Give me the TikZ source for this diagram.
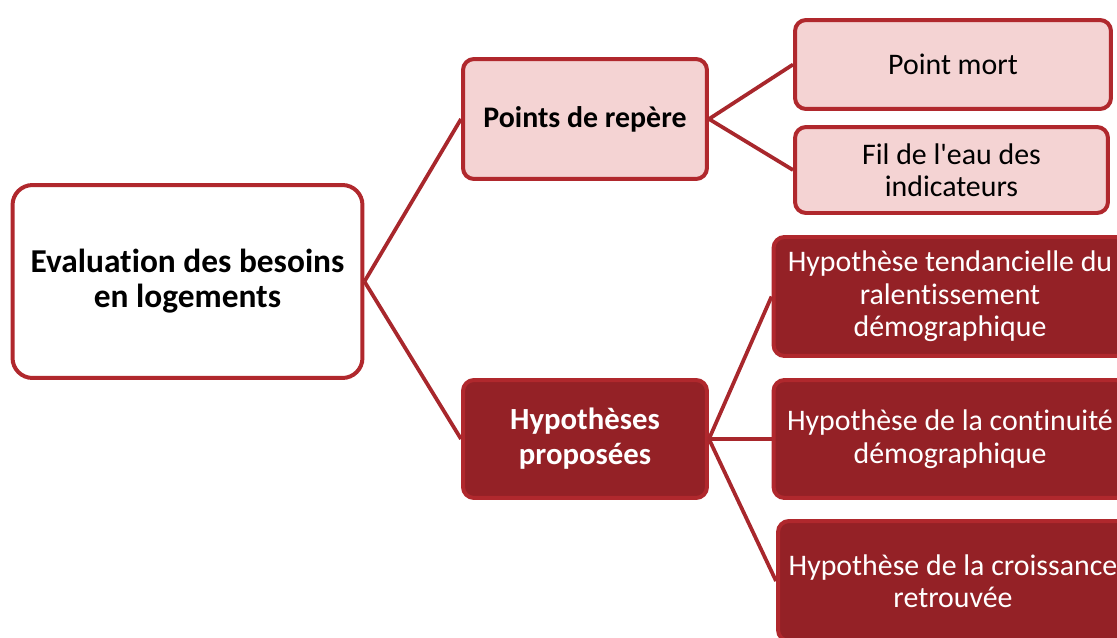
\documentclass[tikz,border=0pt]{standalone}
\usepackage{fontspec}
\setmainfont[Ligatures={TeXOff,CommonOff}]{Carlito}
\definecolor{rougebord}{HTML}{B0282D}
\definecolor{rougefonce}{HTML}{942126}
\definecolor{rose}{HTML}{F4D3D3}
\definecolor{lien}{HTML}{A8272C}
\tikzset{
  racine/.style={draw=rougebord, line width=0.08cm, fill=white, rounded corners=0.4cm,
    minimum width=7.0cm, minimum height=3.86cm, align=center, inner sep=0pt,
    font=\fontsize{19}{20}\selectfont\bfseries},
  clair/.style={draw=rougebord, line width=0.08cm, fill=rose, rounded corners=0.22cm,
    align=center, inner sep=0pt, font=\fontsize{17}{18.5}\selectfont},
  fonce/.style={draw=rougebord, line width=0.08cm, fill=rougefonce, rounded corners=0.22cm,
    align=center, inner sep=0pt, text=white, font=\fontsize{17}{18.5}\selectfont},
  lien/.style={draw=lien, line width=0.075cm}
}
\begin{document}
\begin{tikzpicture}[x=0.02cm, y=-0.02cm]
    \useasboundingbox (0,0) rectangle (1117,637);
    \clip (0,0) rectangle (1117,637);

    \node[racine] (eval) at (187.5,281.5) {Evaluation des besoins\\en logements};

    \node[clair, minimum width=4.88cm, minimum height=2.4cm, font=\fontsize{17}{18.5}\selectfont\bfseries] (reperes) at (585,119) {Points de repère};
    \node[clair, minimum width=6.32cm, minimum height=1.78cm] (mort) at (953,64.5) {Point mort};
    \node[clair, minimum width=6.26cm, minimum height=1.72cm] (fil) at (951.5,170) {Fil de l'eau des\\indicateurs};

    \node[fonce, minimum width=4.88cm, minimum height=2.36cm, font=\fontsize{17.5}{20}\selectfont\bfseries] (hypo) at (585,439) {Hypothèses\\proposées};
    \node[fonce, minimum width=7.06cm, minimum height=2.38cm] (tend) at (950,296.5) {Hypothèse tendancielle du\\ralentissement\\démographique};
    \node[fonce, minimum width=7.06cm, minimum height=2.36cm] (cont) at (950,439) {Hypothèse de la continuité\\démographique};
    \node[fonce, minimum width=7.0cm, minimum height=2.4cm] (crois) at (953,581) {Hypothèse de la croissance\\retrouvée};

    \draw[lien] (eval.east) -- (reperes.west);
    \draw[lien] (eval.east) -- (hypo.west);
    \draw[lien] (reperes.east) -- (mort.west);
    \draw[lien] (reperes.east) -- (fil.west);
    \foreach \cible in {tend,cont,crois} {
        \draw[lien] (hypo.east) -- (\cible.west);
    }
\end{tikzpicture}
\end{document}
